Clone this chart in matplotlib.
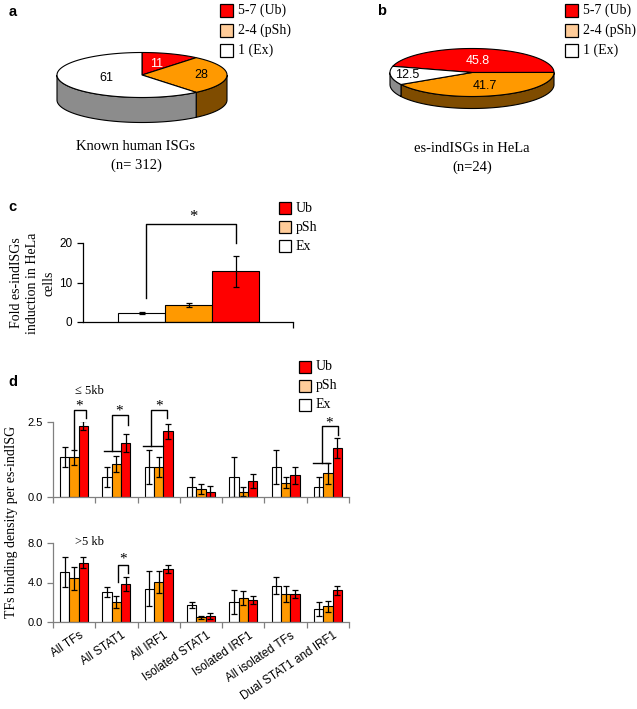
import numpy as np
import matplotlib
matplotlib.use('Agg')
import matplotlib.pyplot as plt
import matplotlib.transforms as mtransforms
from matplotlib.patches import Polygon, Rectangle

# ---- data ----
pie_labels = ['5-7 (Ub)', '2-4 (pSh)', '1 (Ex)']
pie_a_values = [11, 28, 61]
pie_b_values = [45.8, 41.7, 12.5]

c_series = ['Ex', 'pSh', 'Ub']
c_values = [2.3, 4.2, 12.8]
c_errors = [0.2, 0.5, 3.9]

d_categories = ['All TFs', 'All STAT1', 'All IRF1', 'Isolated STAT1',
                'Isolated IRF1', 'All isolated TFs', 'Dual STAT1 and IRF1']
# <= 5 kb
near_ex = [1.34, 0.66, 1.00, 0.33, 0.66, 1.00, 0.33]
near_ex_err = [0.34, 0.33, 0.58, 0.33, 0.66, 0.58, 0.33]
near_psh = [1.32, 1.09, 1.00, 0.27, 0.18, 0.48, 0.79]
near_psh_err = [0.25, 0.27, 0.33, 0.17, 0.14, 0.18, 0.36]
near_ub = [2.37, 1.81, 2.19, 0.18, 0.54, 0.72, 1.64]
near_ub_err = [0.15, 0.30, 0.25, 0.18, 0.24, 0.29, 0.33]
# > 5 kb
far_ex = [5.07, 3.03, 3.37, 1.70, 2.00, 3.68, 1.29]
far_ex_err = [1.50, 0.55, 1.77, 0.27, 1.20, 0.90, 0.70]
far_psh = [4.43, 2.00, 4.02, 0.44, 2.45, 2.83, 1.57]
far_psh_err = [1.20, 0.60, 1.12, 0.15, 0.70, 0.78, 0.58]
far_ub = [6.03, 3.85, 5.38, 0.61, 2.21, 2.83, 3.20]
far_ub_err = [0.56, 0.70, 0.45, 0.30, 0.44, 0.39, 0.46]

# ---- style ----
RED = '#FF0000'
ORANGE = '#FF9900'
PEACH = '#FFCC99'
WHITE = '#FFFFFF'
GREY = '#808080'
SERIF = 'Liberation Serif'
SANS = 'Liberation Sans'
W, H = 637, 709

fig = plt.figure(figsize=(W / 100, H / 100), dpi=100)
fig.patch.set_facecolor('white')

# full-figure canvas in pixel units for pies, legends and free text
cv = fig.add_axes([0, 0, 1, 1])
cv.set_xlim(0, W)
cv.set_ylim(H, 0)
cv.axis('off')


def px_axes(x0, y0, x1, y1):
    """Axes placed by pixel box (top-left origin)."""
    ax = fig.add_axes([x0 / W, 1 - y1 / H, (x1 - x0) / W, (y1 - y0) / H])
    ax.patch.set_alpha(0)
    return ax


def draw_pie3d(values, colors, side_colors, start, cx, cy, rx, ry, depth,
               label_r, label_colors):
    total = float(sum(values))
    t0 = start
    for v, col, scol, lr, lc in zip(values, colors, side_colors, label_r, label_colors):
        t1 = t0 - v / total * 360.0
        th = np.linspace(t1, t0, 400)
        rad = np.radians(th)
        xs = cx + rx * np.cos(rad)
        ys = cy - ry * np.sin(rad)
        # front side wall where sin < 0
        idx = np.where(np.sin(rad) <= 1e-9)[0]
        if len(idx) > 1:
            segs = np.split(idx, np.where(np.diff(idx) > 1)[0] + 1)
            for s in segs:
                if len(s) < 2:
                    continue
                px = np.concatenate([xs[s], xs[s][::-1]])
                py = np.concatenate([ys[s], ys[s][::-1] + depth])
                cv.add_patch(Polygon(np.column_stack([px, py]), closed=True,
                                     facecolor=scol, edgecolor='black', lw=0.8, zorder=2))
        poly = np.column_stack([np.concatenate([[cx], xs]), np.concatenate([[cy], ys])])
        cv.add_patch(Polygon(poly, closed=True, facecolor=col, edgecolor='black',
                             lw=0.8, zorder=3))
        mid = np.radians((t0 + t1) / 2)
        cv.text(cx + lr * rx * np.cos(mid), cy - lr * ry * np.sin(mid),
                f'{v:g}', ha='center', va='center', fontsize=9, family=SANS,
                color=lc, zorder=4)
        t0 = t1


def square_legend(x, ys, labels, colors, size=13, fs=10):
    for y, lab, col in zip(ys, labels, colors):
        cv.add_patch(Rectangle((x, y - size / 2), size, size, facecolor=col,
                               edgecolor='black', lw=0.9, zorder=5))
        cv.text(x + size + 5, y, lab, ha='left', va='center', fontsize=fs,
                family=SERIF, zorder=5)


pie_colors = [RED, ORANGE, WHITE]
pie_sides = ['#800000', '#7F4C00', '#8C8C8C']
legend_colors = [RED, PEACH, WHITE]

# ---- panel a ----
draw_pie3d(pie_a_values, pie_colors, pie_sides, 90, 142, 75, 85, 22.5, 25,
           label_r=[0.5, 0.7, 0.45], label_colors=['white', 'black', 'black'])
square_legend(220, [10, 30, 50], pie_labels, legend_colors)
cv.text(136, 147, 'Known human ISGs', ha='center', va='center', fontsize=10.5, family=SERIF)
cv.text(136, 165, '(n= 312)', ha='center', va='center', fontsize=10.5, family=SERIF)
cv.text(9, 12, 'a', ha='left', va='center', fontsize=10.5, weight='bold', family=SANS)

# ---- panel b ----
draw_pie3d(pie_b_values, pie_colors, pie_sides, 165, 472, 72.5, 82, 24, 12,
           label_r=[0.5, 0.6, 0.8], label_colors=['white', 'black', 'black'])
square_legend(565, [10, 30, 50], pie_labels, legend_colors)
cv.text(472, 149, 'es-indISGs in HeLa', ha='center', va='center', fontsize=10.5, family=SERIF)
cv.text(472, 167, '(n=24)', ha='center', va='center', fontsize=10.5, family=SERIF)
cv.text(377, 11, 'b', ha='left', va='center', fontsize=10.5, weight='bold', family=SANS)

# ---- panel c ----
axc = px_axes(83, 243, 293, 322)
xc = np.arange(len(c_values))
axc.bar(xc, c_values, width=1.0, color=[WHITE, ORANGE, RED], edgecolor='black', lw=0.8,
        yerr=c_errors, error_kw=dict(ecolor='black', elinewidth=0.9, capsize=2.5, capthick=0.9))
axc.set_xlim(-1.245, 3.22)
axc.set_ylim(0, 20)
axc.set_yticks([0, 10, 20])
axc.set_xticks([3.22])
axc.set_xticklabels([])
for s in ['top', 'right']:
    axc.spines[s].set_visible(False)
for s in ['left', 'bottom']:
    axc.spines[s].set_linewidth(0.9)
axc.tick_params(axis='both', length=4, width=0.9, labelsize=8.5)
for lab in axc.get_yticklabels():
    lab.set_family(SANS)
axc.plot([0.1, 0.1, 2.0, 2.0], [6.1, 24.8, 24.8, 20.0], color='black', lw=1, clip_on=False)
axc.text(1.1, 26.5, '*', ha='center', va='center', fontsize=12, family=SERIF)
cv.text(33, 283, 'Fold es-indISGs\ninduction in HeLa\ncells', rotation=90, ha='center',
        va='center', fontsize=10, family=SERIF, linespacing=1.3, multialignment='center')
square_legend(279, [208, 227, 246], ['Ub', 'pSh', 'Ex'], legend_colors, size=12)
cv.text(8, 207, 'c', ha='left', va='center', fontsize=10.5, weight='bold', family=SANS)

# ---- panel d ----
bw = 0.22
xd = np.arange(len(d_categories))


def draw_grouped(ax, ex, ex_err, psh, psh_err, ub, ub_err, ymax, yticks):
    ekw = dict(ecolor='black', elinewidth=0.9, capsize=2.5, capthick=0.9)
    ax.bar(xd - bw, ex, bw, color=WHITE, edgecolor='black', lw=0.8, yerr=ex_err, error_kw=ekw)
    ax.bar(xd, psh, bw, color=ORANGE, edgecolor='black', lw=0.8, yerr=psh_err, error_kw=ekw)
    ax.bar(xd + bw, ub, bw, color=RED, edgecolor='black', lw=0.8, yerr=ub_err, error_kw=ekw)
    ax.set_xlim(-0.5, len(d_categories) - 0.5)
    ax.set_ylim(0, ymax)
    ax.set_yticks(yticks)
    ax.set_yticklabels([f'{t:.1f}' for t in yticks])
    ax.set_xticks(np.arange(-0.5, len(d_categories), 1.0), minor=True)
    ax.set_xticks(xd)
    ax.tick_params(axis='x', which='major', length=0)
    ax.tick_params(axis='x', which='minor', length=4, width=0.9, color=GREY)
    ax.tick_params(axis='y', length=4, width=0.9, color=GREY, labelsize=8)
    for s in ['top', 'right']:
        ax.spines[s].set_visible(False)
    for s in ['left', 'bottom']:
        ax.spines[s].set_color(GREY)
        ax.spines[s].set_linewidth(0.9)
    for lab in ax.get_yticklabels():
        lab.set_family(SANS)


def bracket(ax, g, xl, xr, ytop, ylb, yrb, star_x, star_y, pool=None):
    ax.plot([g + xl, g + xl, g + xr, g + xr], [ylb, ytop, ytop, yrb],
            color='black', lw=1, clip_on=False)
    if pool is not None:
        ax.plot([g + pool[0], g + pool[1]], [ylb, ylb], color='black', lw=1, clip_on=False)
    ax.text(g + star_x, star_y, '*', ha='center', va='center', fontsize=11, family=SERIF)


axd1 = px_axes(53, 422, 349, 497)
draw_grouped(axd1, near_ex, near_ex_err, near_psh, near_psh_err, near_ub, near_ub_err,
             2.5, [0.0, 2.5])
axd1.set_xticklabels([])
bracket(axd1, 0, 0.0, 0.27, 2.91, 1.56, 2.64, 0.12, 3.02)
bracket(axd1, 1, -0.106, 0.27, 2.72, 1.53, 2.41, 0.06, 2.86, pool=(-0.295, 0.11))
bracket(axd1, 2, -0.19, 0.19, 2.91, 1.70, 2.64, 0.0, 3.02, pool=(-0.37, 0.10))
bracket(axd1, 6, -0.146, 0.23, 2.36, 1.15, 2.08, 0.035, 2.47, pool=(-0.34, 0.035))
axd1.text(0.03, 3.55, '\u2264 5kb', ha='left', va='center', fontsize=9, family=SERIF,
          clip_on=False)

axd2 = px_axes(53, 543.3, 349, 621.7)
draw_grouped(axd2, far_ex, far_ex_err, far_psh, far_psh_err, far_ub, far_ub_err,
             8.0, [0.0, 4.0, 8.0])
axd2.set_xticklabels(d_categories, rotation=34, ha='right', va='top',
                     rotation_mode='anchor', fontsize=8.4, family=SANS)
shift = mtransforms.ScaledTranslation(0.05, -0.03, fig.dpi_scale_trans)
for lab in axd2.get_xticklabels():
    lab.set_transform(lab.get_transform() + shift)
bracket(axd2, 1, 0.035, 0.27, 5.79, 4.08, 5.0, 0.15, 6.35)
axd2.text(0.03, 8.1, '>5 kb', ha='left', va='center', fontsize=9, family=SERIF,
          clip_on=False)

cv.text(12, 522, 'TFs binding density per es-indISG', rotation=90, ha='center',
        va='center', fontsize=10, family=SERIF)
square_legend(299, [367, 386, 405], ['Ub', 'pSh', 'Ex'], legend_colors, size=12)
cv.text(8, 382, 'd', ha='left', va='center', fontsize=10.5, weight='bold', family=SANS)

fig.savefig('out.png', dpi=100, facecolor='white')
